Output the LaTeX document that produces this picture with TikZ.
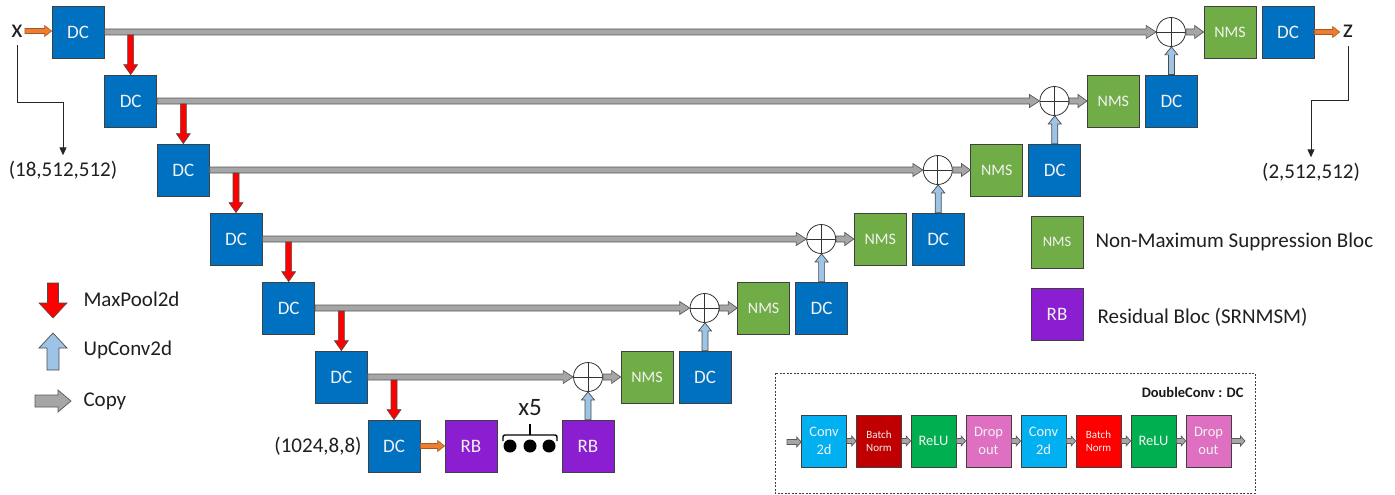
\documentclass[tikz,border=0pt]{standalone}
\usepackage{fontspec}
\setmainfont{Carlito}
\usetikzlibrary{calc,arrows.meta}
\definecolor{dcblue}{HTML}{0070C0}
\definecolor{nmsgreen}{HTML}{70AD47}
\definecolor{rbpurple}{HTML}{8B1ED0}
\definecolor{copygray}{HTML}{A6A6A6}
\definecolor{upblue}{HTML}{9DC3E6}
\definecolor{orangeA}{HTML}{ED7D31}
\definecolor{convcyan}{HTML}{00B0F0}
\definecolor{bndark}{HTML}{C00000}
\definecolor{relugreen}{HTML}{00B050}
\definecolor{droppink}{HTML}{DE6FC1}
\definecolor{bnred}{HTML}{FF0000}
% fat block arrows: style, from, to, shaft half width, head half width, head length
\newcommand\ArrR[6]{\path[#1] let \p1=(#2), \p2=(#3) in (\x1,\y1+#4) -- (\x2-#6,\y1+#4) -- (\x2-#6,\y1+#5) -- (\x2,\y1) -- (\x2-#6,\y1-#5) -- (\x2-#6,\y1-#4) -- (\x1,\y1-#4) -- cycle;}
\newcommand\ArrD[6]{\path[#1] let \p1=(#2), \p2=(#3) in (\x1-#4,\y1) -- (\x1-#4,\y2+#6) -- (\x1-#5,\y2+#6) -- (\x1,\y2) -- (\x1+#5,\y2+#6) -- (\x1+#4,\y2+#6) -- (\x1+#4,\y1) -- cycle;}
\newcommand\ArrU[6]{\path[#1] let \p1=(#2), \p2=(#3) in (\x1-#4,\y1) -- (\x1-#4,\y2-#6) -- (\x1-#5,\y2-#6) -- (\x1,\y2) -- (\x1+#5,\y2-#6) -- (\x1+#4,\y2-#6) -- (\x1+#4,\y1) -- cycle;}
\tikzset{
  box/.style={draw=black!75, line width=0.8pt, minimum width=52pt, minimum height=52pt, inner sep=0pt, text=white!95!black, align=center},
  dc/.style={box, fill=dcblue, font=\fontsize{19}{21}\selectfont},
  nms/.style={box, fill=nmsgreen, font=\fontsize{16}{18}\selectfont},
  rb/.style={box, fill=rbpurple, font=\fontsize{19}{21}\selectfont},
  plusnode/.style={circle, draw=black!80, fill=white, minimum size=29pt, inner sep=0pt, line width=0.8pt,
    path picture={\draw[line width=0.8pt] (path picture bounding box.north) -- (path picture bounding box.south)
      (path picture bounding box.west) -- (path picture bounding box.east);}},
  copyar/.style={fill=copygray, draw=black!65, line width=0.7pt},
  poolar/.style={fill=red, draw=black!70, line width=0.6pt},
  upar/.style={fill=upblue, draw=black!70, line width=0.7pt},
  orar/.style={fill=orangeA, draw=orangeA!70!black, line width=0.6pt},
  lbl/.style={font=\fontsize{21}{24}\selectfont, text=black!88},
  conn/.style={draw=black!85, line width=0.9pt, -{Triangle[length=8pt,width=7pt]}},
  ops/.style={draw=black!75, line width=0.7pt, minimum width=45pt, minimum height=52pt, inner sep=0pt,
    text=white!95!black, align=center, font=\fontsize{14.5}{18}\selectfont},
  bnops/.style={ops, font=\fontsize{11}{13.5}\selectfont},
}
\begin{document}
\begin{tikzpicture}[x=1pt,y=-1pt]
\useasboundingbox (0,0) rectangle (1395,495);
% encoder
\foreach \k in {0,...,6}{
  \node[dc] (e\k) at ({78+52.67*\k},{32+69*\k}) {DC};
}
% decoder
\foreach \k in {0,...,5}{
  \node[plusnode] (p\k) at ({1171-116.6*\k},{32+69*\k}) {};
  \node[nms] (n\k) at ({1230-116.6*\k},{32+69*\k}) {NMS};
  \node[dc] (d\k) at ({1288-116.6*\k},{32+69*\k}) {DC};
}
\node[rb] (rb1) at (471,446) {RB};
\node[rb] (rb2) at (588,446) {RB};
% copy arrows
\foreach \k in {0,...,5}{
  \ArrR{copyar}{e\k.east}{p\k.west}{3pt}{6.5pt}{10pt}
  \ArrR{copyar}{p\k.east}{n\k.west}{3pt}{6.5pt}{9pt}
}
% maxpool arrows
\foreach \k [evaluate=\k as \kk using int(\k+1)] in {0,...,5}{
  \ArrD{poolar}{$(e\k.east -| e\kk.north)+(0,3)$}{e\kk.north}{3pt}{7pt}{10pt}
}
% upconv arrows
\foreach \k [evaluate=\k as \kk using int(\k+1)] in {0,...,4}{
  \ArrU{upar}{d\kk.north}{p\k.south}{3pt}{6.5pt}{8pt}
}
\ArrU{upar}{rb2.north}{p5.south}{3pt}{6.5pt}{8pt}
% input / output
\node[lbl, font=\fontsize{26}{28}\selectfont, inner sep=2pt] (xin) at (17,31) {x};
\node[lbl, font=\fontsize{26}{28}\selectfont, inner sep=3pt] (zout) at (1348,31) {z};
\ArrR{orar}{xin.east}{e0.west}{2.5pt}{5.5pt}{7pt}
\ArrR{orar}{d0.east}{zout.west}{2.5pt}{5.5pt}{7pt}
\ArrR{orar}{e6.east}{rb1.west}{2.5pt}{5.5pt}{7pt}
\node[lbl] (l18) at (63,170) {(18,512,512)};
\node[lbl] (l2) at (1311,172) {(2,512,512)};
\node[lbl] (l1024) at (318,446) {(1024,8,8)};
\coordinate (xb) at (63,102);
\coordinate (zb) at (1311,100);
\draw[conn, shorten <=6pt, shorten >=2pt] (xin.south) |- (xb) -- (l18.north);
\draw[conn, shorten <=6pt, shorten >=2pt] (zout.south) |- (zb) -- (l2.north);
% residual repetition
\foreach \i/\xx in {1/510,2/530,3/549}{
  \fill (\xx,446) circle (6.5pt);
}
\draw[line width=1.4pt, rounded corners=2pt] (503,441) -- (503,435) -- (557,435) -- (557,441);
\draw[line width=1.4pt] (530,435) -- (530,424);
\node[lbl, font=\fontsize{25}{27}\selectfont] (x5) at (530,408) {x5};
% left legend
\coordinate (lpa) at (53,283); \coordinate (lpb) at (53,318);
\coordinate (lua) at (53,370); \coordinate (lub) at (53,333);
\coordinate (lca) at (35,401); \coordinate (lcb) at (71,401);
\ArrD{poolar}{lpa}{lpb}{5.5pt}{14pt}{15pt}
\node[lbl, anchor=west] (lgpool) at (80,299) {MaxPool2d};
\ArrU{upar}{lua}{lub}{6pt}{14pt}{15pt}
\node[lbl, anchor=west] (lgup) at (80,350) {UpConv2d};
\ArrR{copyar}{lca}{lcb}{6pt}{11pt}{13pt}
\node[lbl, anchor=west] (lgcopy) at (80,401) {Copy};
% right legend
\node[nms, font=\fontsize{14.5}{16}\selectfont] (lgnms) at (1057,242) {NMS};
\node[lbl, anchor=west] (lgnmst) at (1092,242) {Non-Maximum Suppression Bloc};
\node[rb] (lgrb) at (1057,314) {RB};
\node[lbl, anchor=west] (lgrbt) at (1094,317) {Residual Bloc (SRNMSM)};
% DoubleConv box
\draw[black!75, line width=0.8pt, dash pattern=on 2pt off 1.5pt] (775,373) rectangle (1255,493);
\node[font=\bfseries\fontsize{14.5}{16}\selectfont, anchor=east, text=black!90] (dctitle) at (1247,392) {DoubleConv : DC};
\node[ops, fill=convcyan] (o1) at (824,441) {Conv\\2d};
\node[bnops, fill=bndark] (o2) at (879,441) {Batch\\Norm};
\node[ops, fill=relugreen] (o3) at (933.5,441) {ReLU};
\node[ops, fill=droppink] (o4) at (988.5,441) {Drop\\out};
\node[ops, fill=convcyan] (o5) at (1043.5,441) {Conv\\2d};
\node[bnops, fill=bnred] (o6) at (1098.5,441) {Batch\\Norm};
\node[ops, fill=relugreen] (o7) at (1153.5,441) {ReLU};
\node[ops, fill=droppink] (o8) at (1208.5,441) {Drop\\out};
\coordinate (din) at (787,442);
\coordinate (dout) at (1245,442);
\ArrR{copyar}{din}{o1.west}{2.5pt}{5pt}{4.5pt}
\foreach \a/\b in {1/2,2/3,3/4,4/5,5/6,6/7,7/8}{
  \ArrR{copyar}{o\a.east}{o\b.west}{2.5pt}{5pt}{4.5pt}
}
\ArrR{copyar}{o8.east}{dout}{2.5pt}{5pt}{4.5pt}
\end{tikzpicture}
\end{document}
